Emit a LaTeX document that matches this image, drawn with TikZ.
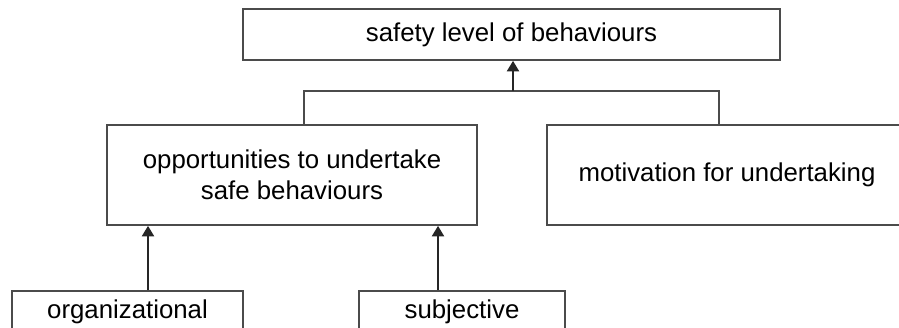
\documentclass[tikz,border=0pt]{standalone}
\usepackage{fontspec}
\setmainfont{Liberation Sans}
\usepackage{tikz}
\usetikzlibrary{arrows.meta,positioning,calc}
\definecolor{boxline}{RGB}{75,75,75}

\begin{document}
\begin{tikzpicture}[x=1pt, y=1pt,
    every node/.style={font=\fontsize{25.8}{31}\selectfont},
    box/.style={draw=boxline, line width=1.7pt, inner sep=0pt, align=center},
    lowbox/.style={box, anchor=north, text height=19pt, text depth=60pt, inner ysep=9pt},
    arr/.style={-{Triangle[width=12pt,length=10.5pt]}, line width=2pt, black!85},
    link/.style={line width=1.7pt, boxline}]
        \useasboundingbox (0,0) rectangle (899,327);
        \clip (0,0) rectangle (899,327);

        % top level
        \node[box, minimum width=537pt, minimum height=51pt] (safety) at (511.5,292.5) {safety level of behaviours};

        % middle level
        \node[box, minimum width=370pt, minimum height=100pt] (opport) at (292,152) {opportunities to undertake\\safe behaviours};
        \node[box, minimum width=360pt, minimum height=100pt] (motiv) at (727,152) {motivation for undertaking};

        % bottom level
        \node[lowbox, minimum width=231pt] (organ) at (127.5,37) {organizational};
        \node[lowbox, minimum width=206pt] (subj) at (462,37) {subjective};

        % joins
        \coordinate (join) at (513,236);
        \coordinate (lft) at (304,0);
        \coordinate (rgt) at (719,0);
        \coordinate (ao) at (148,0);
        \coordinate (as) at (438,0);

        \draw[link] (opport.north -| lft) |- (join) -| (motiv.north -| rgt);
        \draw[arr] (join) -- (safety.south -| join);
        \draw[arr] (organ.north -| ao) -- (opport.south -| ao);
        \draw[arr] (subj.north -| as) -- (opport.south -| as);
      \end{tikzpicture}
\end{document}
